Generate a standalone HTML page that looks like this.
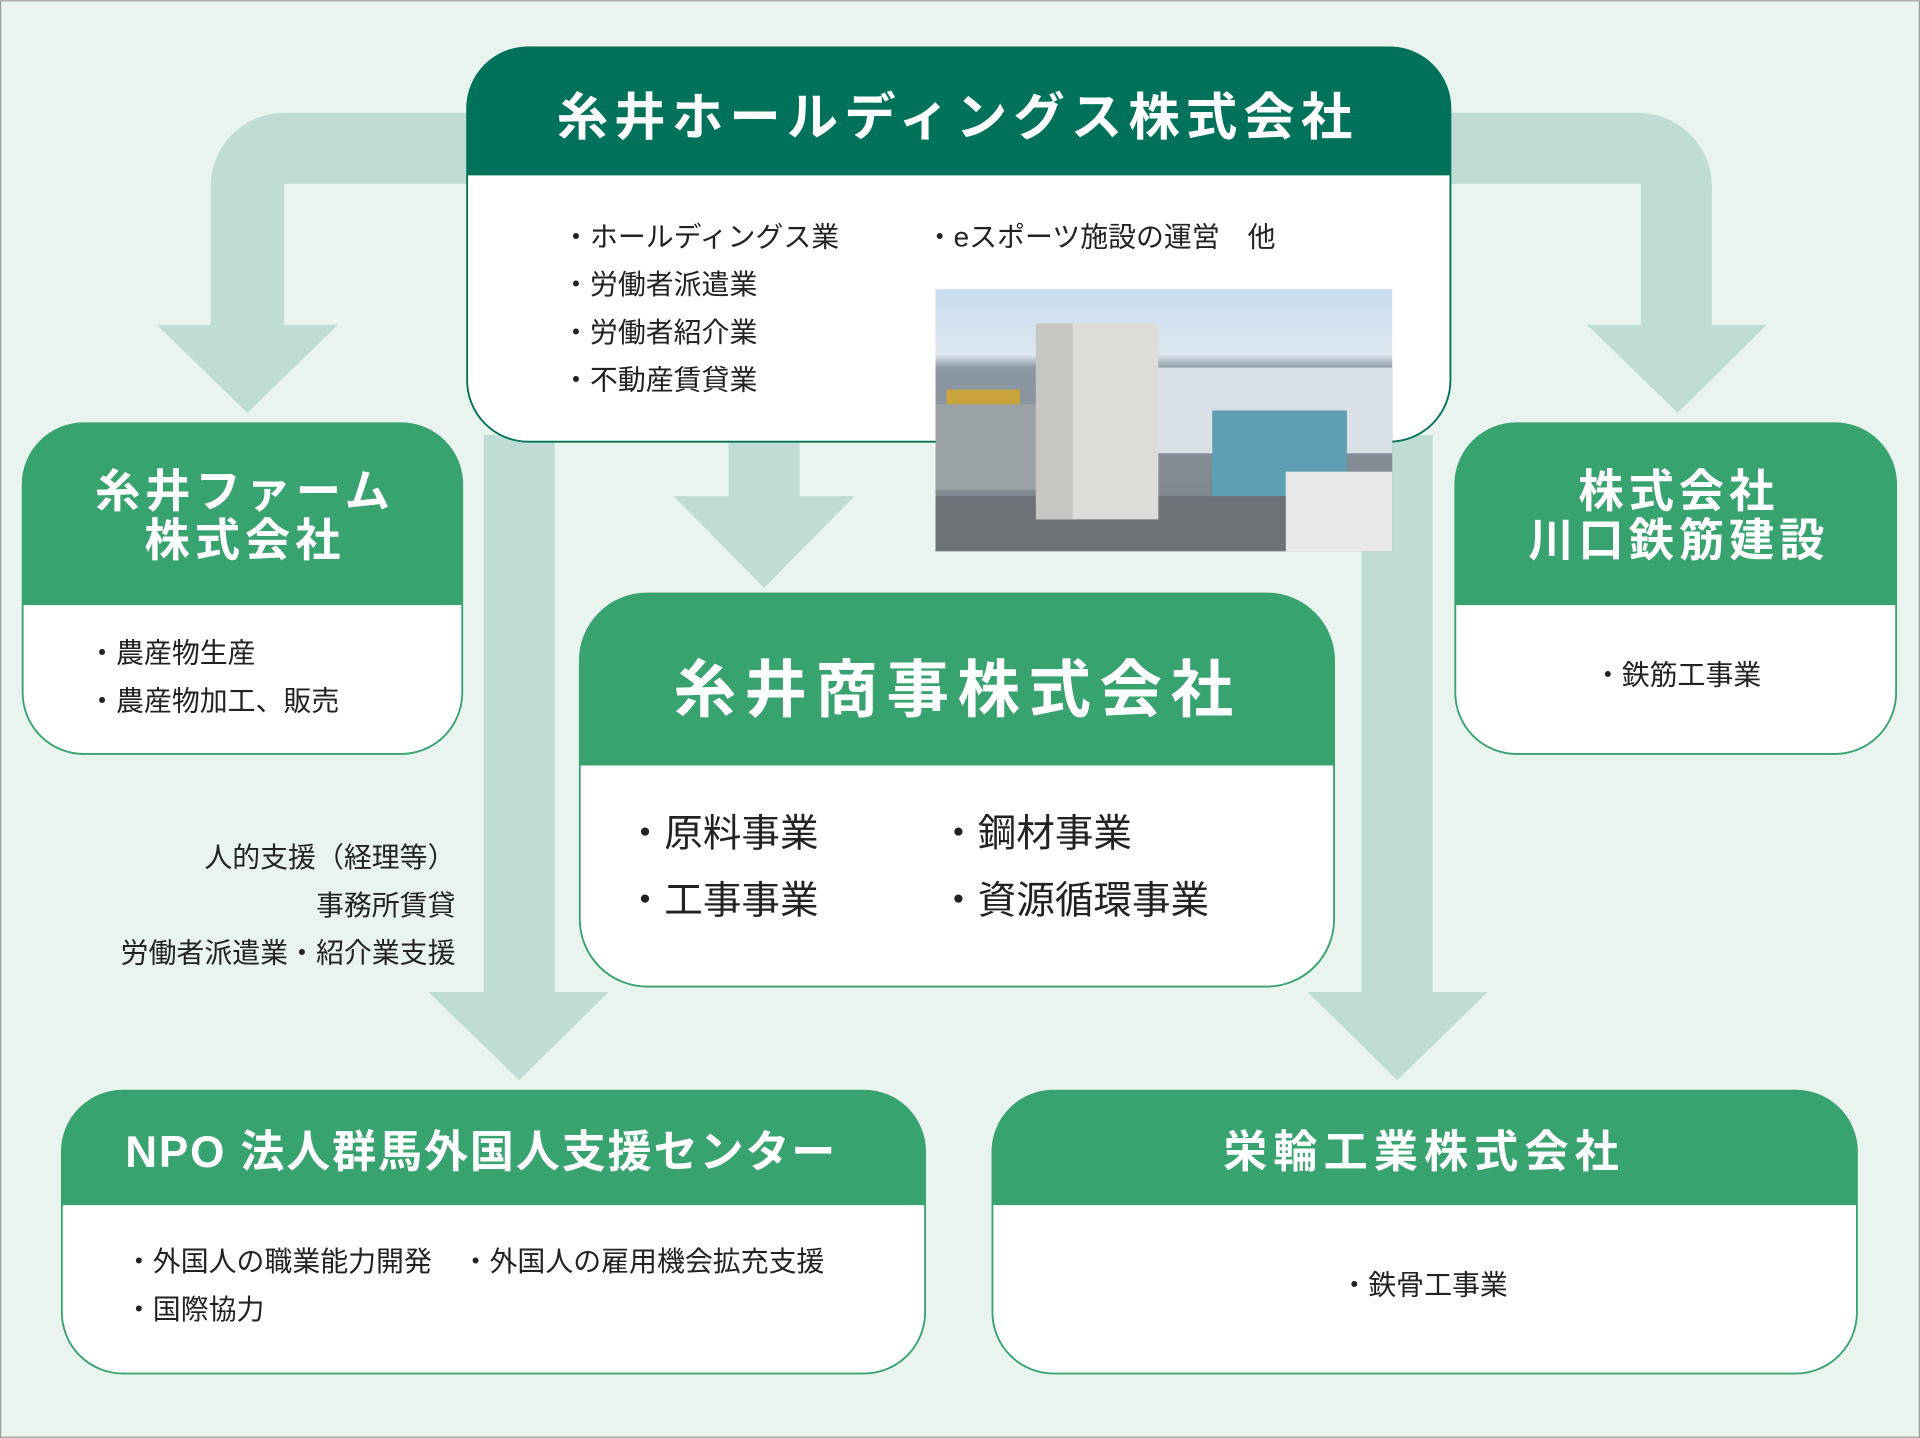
<!DOCTYPE html>
<html><head><meta charset="utf-8"><style>
html,body{margin:0;padding:0;background:#eaf4ef}
svg{display:block}
text{font-family:"Liberation Sans","Noto Sans CJK JP",sans-serif}
</style></head><body>
<svg width="1920" height="1438" viewBox="0 0 1568 1174" xmlns="http://www.w3.org/2000/svg">
<rect x="0.5" y="0.5" width="1567" height="1173" fill="#eaf4ef" stroke="#9a9a9a"/>
<g fill="#c0ddd5">
<path d="M390 92 H232 A60 60 0 0 0 172 152 V265 H128 L202 337 L276 265 H232 V150 H390 Z"/>
<path d="M1178 92 H1338 A60 60 0 0 1 1398 152 V265 H1443 L1370 337 L1296 265 H1340 V150 H1178 Z"/>
<path d="M595 355 H653 V405 H698 L624 480 L550 405 H595 Z"/>
<path d="M395 355 H453 V810 H497 L424 882 L350 810 H395 Z"/>
<path d="M1112 355 H1170 V810 H1215 L1141 882 L1068 810 H1112 Z"/>
</g>
<rect x="381" y="38" width="804" height="323" rx="50" fill="#00715a"/>
<path d="M382 143 H1184 V311 A49 49 0 0 1 1135 360 H431 A49 49 0 0 1 382 311 Z" fill="#fff"/>
<rect x="381.5" y="38.5" width="803" height="322" rx="50" fill="none" stroke="#00715a" stroke-width="1.5"/>
<text x="782" y="110" text-anchor="middle" fill="#fff" font-size="42" font-weight="bold" letter-spacing="5">糸井ホールディングス株式会社</text>
<g font-size="22.8" fill="#222">
<text x="459" y="201">・ホールディングス業</text>
<text x="459" y="240">・労働者派遣業</text>
<text x="459" y="279">・労働者紹介業</text>
<text x="459" y="318">・不動産賃貸業</text>
<text x="756" y="201">・eスポーツ施設の運営　他</text>
</g>
<defs><linearGradient id="sky" x1="0" y1="0" x2="0" y2="1"><stop offset="0" stop-color="#c9dcef"/><stop offset="0.25" stop-color="#dce7f0"/><stop offset="0.3" stop-color="#8c98a4"/><stop offset="1" stop-color="#7b8186"/></linearGradient></defs>
<rect x="764" y="236" width="373" height="214" fill="url(#sky)"/>
<rect x="764" y="330" width="110" height="70" fill="#9aa2a6"/>
<rect x="773" y="318" width="60" height="12" fill="#c9a43a"/>
<rect x="945" y="300" width="192" height="70" fill="#d9e1e6"/>
<rect x="990" y="335" width="110" height="70" fill="#5e9fb3"/>
<rect x="1050" y="385" width="87" height="65" fill="#e6e8ea"/>
<rect x="764" y="405" width="286" height="45" fill="#6d7277"/>
<rect x="846" y="264" width="100" height="160" fill="#dcdcd8"/>
<rect x="846" y="264" width="30" height="160" fill="#c6c6c2"/>
<rect x="18" y="345" width="360" height="271" rx="50" fill="#38a36f"/>
<path d="M19 494 H377 V566 A49 49 0 0 1 328 615 H68 A49 49 0 0 1 19 566 Z" fill="#fff"/>
<rect x="18.5" y="345.5" width="359" height="270" rx="50" fill="none" stroke="#38a36f" stroke-width="1.5"/>
<g fill="#fff" font-size="37" font-weight="bold" text-anchor="middle" letter-spacing="4"><text x="200" y="414">糸井ファーム</text><text x="200" y="454">株式会社</text></g>
<g font-size="22.8" fill="#222"><text x="72" y="541">・農産物生産</text><text x="72" y="580">・農産物加工、販売</text></g>
<rect x="1188" y="345" width="361" height="271" rx="50" fill="#38a36f"/>
<path d="M1189 494 H1548 V566 A49 49 0 0 1 1499 615 H1238 A49 49 0 0 1 1189 566 Z" fill="#fff"/>
<rect x="1188.5" y="345.5" width="360" height="270" rx="50" fill="none" stroke="#38a36f" stroke-width="1.5"/>
<g fill="#fff" font-size="37" font-weight="bold" text-anchor="middle" letter-spacing="4"><text x="1371" y="414">株式会社</text><text x="1371" y="454">川口鉄筋建設</text></g>
<text x="1370" y="559" font-size="22.8" fill="#222" text-anchor="middle">・鉄筋工事業</text>
<rect x="473" y="484" width="617" height="322" rx="55" fill="#38a36f"/>
<path d="M474 625 H1089 V751 A54 54 0 0 1 1035 805 H528 A54 54 0 0 1 474 751 Z" fill="#fff"/>
<rect x="473.5" y="484.5" width="616" height="321" rx="55" fill="none" stroke="#38a36f" stroke-width="1.5"/>
<text x="782" y="581" text-anchor="middle" fill="#fff" font-size="51" font-weight="bold" letter-spacing="7">糸井商事株式会社</text>
<g font-size="31.5" fill="#222"><text x="511" y="691">・原料事業</text><text x="511" y="746">・工事事業</text><text x="767" y="691">・鋼材事業</text><text x="767" y="746">・資源循環事業</text></g>
<g font-size="22.8" fill="#222" text-anchor="end"><text x="372" y="708">人的支援（経理等）</text><text x="372" y="747">事務所賃貸</text><text x="372" y="786">労働者派遣業・紹介業支援</text></g>
<rect x="50" y="890" width="706" height="232" rx="50" fill="#38a36f"/>
<path d="M51 984 H755 V1072 A49 49 0 0 1 706 1121 H100 A49 49 0 0 1 51 1072 Z" fill="#fff"/>
<rect x="50.5" y="890.5" width="705" height="231" rx="50" fill="none" stroke="#38a36f" stroke-width="1.5"/>
<text x="393" y="953" text-anchor="middle" fill="#fff" font-size="36" font-weight="bold" letter-spacing="1.5">NPO 法人群馬外国人支援センター</text>
<g font-size="22.8" fill="#222"><text x="102" y="1038">・外国人の職業能力開発</text><text x="377" y="1038">・外国人の雇用機会拡充支援</text><text x="102" y="1077">・国際協力</text></g>
<rect x="810" y="890" width="707" height="232" rx="50" fill="#38a36f"/>
<path d="M811 984 H1516 V1072 A49 49 0 0 1 1467 1121 H860 A49 49 0 0 1 811 1072 Z" fill="#fff"/>
<rect x="810.5" y="890.5" width="706" height="231" rx="50" fill="none" stroke="#38a36f" stroke-width="1.5"/>
<text x="1163" y="953" text-anchor="middle" fill="#fff" font-size="36" font-weight="bold" letter-spacing="5">栄輪工業株式会社</text>
<text x="1163" y="1057" text-anchor="middle" font-size="22.8" fill="#222">・鉄骨工事業</text>
</svg>
</body></html>
